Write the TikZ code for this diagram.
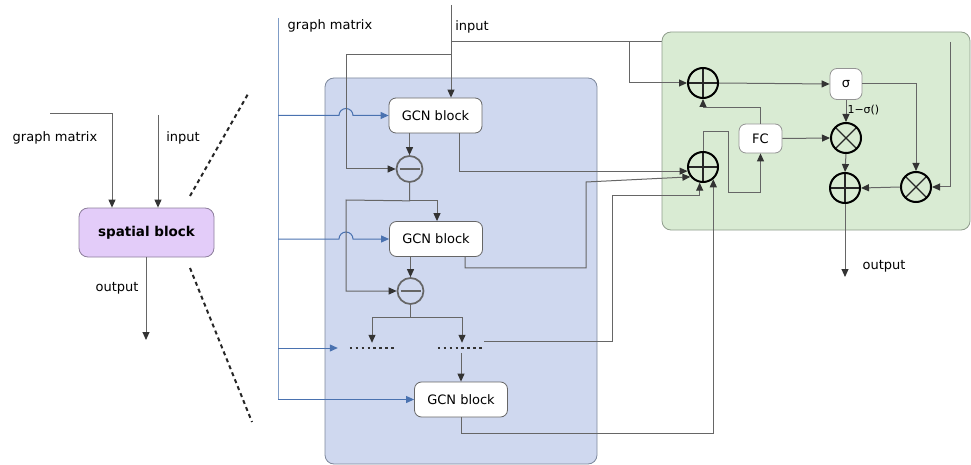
\documentclass[tikz,border=0pt]{standalone}
\usepackage{fontspec}
\setmainfont{DejaVu Sans}
\usetikzlibrary{arrows.meta,calc}

\definecolor{wire}{HTML}{666666}
\definecolor{tipc}{HTML}{333333}
\definecolor{bluewire}{HTML}{4A72B0}
\definecolor{bluevert}{HTML}{7F9CC6}
\definecolor{bluefill}{HTML}{CFD8EF}
\definecolor{blueedge}{HTML}{7D889C}
\definecolor{greenfill}{HTML}{D9EBD3}
\definecolor{greenedge}{HTML}{8F9C8C}
\definecolor{lavfill}{HTML}{E3CCF9}
\definecolor{lavedge}{HTML}{8D7F9C}

\begin{document}
\begin{tikzpicture}[x=1pt,y=-1pt,
  font=\fontsize{13}{15}\selectfont,
  wireline/.style={draw=wire, line width=1pt},
  arr/.style={wireline, -{Triangle[length=8pt,width=7pt,fill=tipc,color=tipc]}},
  bluearr/.style={draw=bluewire, line width=1pt, -{Triangle[length=8pt,width=7pt,fill=bluewire,color=bluewire]}},
  gcn/.style={draw=wire, fill=white, rounded corners=7pt, line width=0.8pt, minimum width=93pt, minimum height=35pt, inner sep=0},
  smallbox/.style={draw=wire!70, fill=white, rounded corners=7pt, line width=0.8pt, inner sep=0},
  minusop/.style={circle, draw=wire, line width=1.7pt, minimum size=26pt, inner sep=0,
    path picture={\draw[wire, line width=1.4pt]
      ($(path picture bounding box.west)+(3pt,0)$) -- ($(path picture bounding box.east)+(-3pt,0)$);}},
  plusop/.style={circle, draw=black, line width=2pt, minimum size=30pt, inner sep=0,
    path picture={\draw[black!85, line width=1.6pt]
      (path picture bounding box.north) -- (path picture bounding box.south)
      (path picture bounding box.west) -- (path picture bounding box.east);}},
  timesop/.style={circle, draw=black, line width=2pt, minimum size=30pt, inner sep=0,
    path picture={\draw[black!85, line width=1.2pt]
      ($(path picture bounding box.north west)+(5pt,-5pt)$) -- ($(path picture bounding box.south east)+(-5pt,5pt)$)
      ($(path picture bounding box.south west)+(5pt,5pt)$) -- ($(path picture bounding box.north east)+(-5pt,-5pt)$);}},
  dotrow/.style={minimum width=46pt, minimum height=10pt, inner sep=0},
  zoomline/.style={draw=black!85, line width=2pt, dash pattern=on 4pt off 3.5pt},
]
\useasboundingbox (0,0) rectangle (971,465);

% ---------- overview: spatial block ----------
\node[draw=lavedge, fill=lavfill, rounded corners=9pt, line width=0.8pt,
      minimum width=135pt, minimum height=49pt, font=\fontsize{13.5}{15}\selectfont\bfseries] (sb) at (146.5,232.5) {spatial block};
\node (gmA) at (55,138) {graph matrix};
\node (inA) at (183,138) {input};
\node (outA) at (117,288) {output};
\coordinate (gmsrcA) at (50,114);
\coordinate (insrcA) at (158,115);
\coordinate (outendA) at (146,340);
\draw[arr] (gmsrcA) -| ([xshift=-34.5pt]sb.north);
\draw[arr] (insrcA) -- (insrcA |- sb.north);
\draw[arr] (sb.south -| outendA) -- (outendA);

% zoom-out guide lines
\draw[zoomline] (190,196) -- (248,94);
\draw[zoomline] (190,268) -- (252,422);

% ---------- GCN stack ----------
\draw[draw=blueedge, fill=bluefill, rounded corners=9pt, line width=0.8pt] (325,78) rectangle (597,464);

\node (gmB) at (330,26) {graph matrix};
\node (inB) at (472,27) {input};
\coordinate (bvtop) at (278,18);
\coordinate (bvbot) at (278,399);
\draw[draw=bluevert, line width=1pt] (bvtop) -- (bvbot);

\node[gcn] (g1) at (435.5,115.5) {GCN block};
\node[minusop] (m1) at (409.5,169) {};
\node[gcn] (g2) at (436,239) {GCN block};
\node[minusop] (m2) at (410.5,291) {};
\node[dotrow] (d1) at (373,348) {};
\node[dotrow] (d2) at (461,348) {};
\node[gcn] (g3) at (461,399.5) {GCN block};

\draw[draw=black!80, line width=2.6pt, dash pattern=on 2.6pt off 3.3pt] (d1.west) -- (d1.east);
\draw[draw=black!80, line width=2.6pt, dash pattern=on 2.6pt off 3.3pt] (d2.west) -- (d2.east);

% graph matrix feeds (with hops over the skip wire)
\draw[bluearr] (bvtop |- g1.west) -- (339,115.5) arc[start angle=180,end angle=0,radius=7pt] -- (g1.west);
\draw[bluearr] (bvtop |- g2.west) -- (339,239) arc[start angle=180,end angle=0,radius=7pt] -- (g2.west);
\draw[bluearr] (bvtop |- d1.west) -- ([xshift=-12pt]d1.west);
\draw[bluearr] (bvtop |- g3.west) -- (g3.west);

% input wiring
\coordinate (inB0) at (451,5);
\coordinate (tapA) at (451,42);
\coordinate (tapB) at (451,55);
\coordinate (tapC) at (629,42);
\coordinate (rtc) at (950,42);
\draw[arr] (inB0) -- (inB0 |- g1.north);
\draw[wireline] (tapA) -- (rtc);
\draw[arr] (tapB) -- (346,55) |- (m1.west);

% stack internals
\draw[arr] (m1 |- g1.south) -- (m1.north);
\draw[arr] (m1.south) -- ++(0,18) -| ([xshift=1pt]g2.north);
\draw[arr] (m1.south) -- ++(0,18) -- (346,200) |- (m2.west);
\draw[arr] (m2 |- g2.south) -- (m2.north);
\draw[arr] (m2.south) -- ++(0,13) -| ([xshift=-1pt]d1.north);
\draw[arr] (m2.south) -- ++(0,13) -| ([xshift=1pt]d2.north);
\draw[arr] (d2.south -| g3.north) -- (g3.north);

% ---------- gating unit ----------
\draw[draw=greenedge, fill=greenfill, rounded corners=9pt, line width=0.8pt] (662,32) rectangle (970,230);

\node[plusop] (p1) at (703,83) {};
\node[plusop] (p2) at (703,167) {};
\node[smallbox, minimum width=43pt, minimum height=29pt] (fc) at (760.5,138.5) {FC};
\node[smallbox, minimum width=32pt, minimum height=31pt] (sig) at (846,84) {σ};
\node[timesop] (x1) at (846,138) {};
\node[plusop] (p3) at (845,188) {};
\node[timesop] (x2) at (916,187) {};
\node (outC) at (884,266) {output};
\coordinate (outendC) at (845,277);

% stack outputs into the lower adder
\draw[arr] ([xshift=23.5pt]g1.south) |- (p2.195);
\draw[arr] ([xshift=29pt]g2.south) -- ++(0,11) -| (586,182) -- (p2.218);
\draw[arr] ([yshift=7pt]d2.east) -| (612,196) -| (p2.258);
\draw[arr] (g3.south) -- ++(0,16) -| (p2.310);

% gate wiring
\draw[arr] (tapC) |- (p1.west);
\draw[arr] (rtc) |- (x2.east);
\draw[arr] (p1.east) -- (sig.west);
\draw[arr] (fc.north) -- ++(0,-16) -| (p1.south);
\draw[arr] (p2.north) |- (728,132) -- (728,193) -| (fc.south);
\draw[arr] (fc.east) -- (x1.west);
\draw[arr] (sig.south) -- (x1.north) node[pos=0.45, right, inner sep=1pt, font=\fontsize{11}{12}\selectfont] (lab) {1−σ()};
\draw[arr] (sig.east) -| (x2.north);
\draw[arr] (x2.west) -- (p3.east);
\draw[arr] (x1.south) -- (p3.north);
\draw[arr] (p3.south) -- (outendC);
\end{tikzpicture}
\end{document}
